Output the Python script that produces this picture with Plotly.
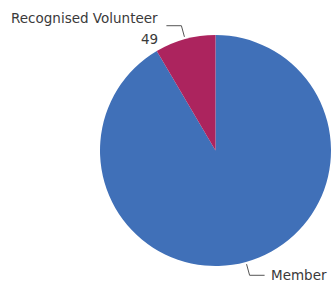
import math
import plotly.graph_objects as go

categories = ["Member", "Recognised Volunteer"]
values = [528, 49]
colors = ["#4070B8", "#AC245E"]

W, H = 331, 284
cx, cy, R = 215.5, 150.5, 115.5  # pie centre/radius in px

fig = go.Figure(go.Pie(
    labels=categories, values=values, sort=False, direction="clockwise",
    rotation=0, marker=dict(colors=colors, line=dict(width=0)),
    textinfo="none", hoverinfo="label+value", showlegend=False,
    domain=dict(x=[(cx - R) / W, (cx + R) / W], y=[1 - (cy + R) / H, 1 - (cy - R) / H]),
))

def px(x, y):
    return x / W, 1 - y / H

total = sum(values)
start = 0.0
shapes, annots = [], []
font = dict(family="DejaVu Sans", size=13.5, color="#3a3a3a")
for cat, v in zip(categories, values):
    frac = v / total
    mid = (start + frac / 2) * 2 * math.pi
    start += frac
    sx, sy = math.sin(mid), -math.cos(mid)
    ex, ey = cx + R * sx * 1.02, cy + R * sy * 1.02
    kx, ky = cx + R * sx * 1.12, cy + R * sy * 1.12
    side = 1 if sx > 0 else -1
    hx = kx + side * 15
    p = [px(ex, ey), px(kx, ky), px(hx, ky)]
    shapes.append(dict(type="path", xref="paper", yref="paper",
                       path="M {} {} L {} {} L {} {}".format(p[0][0], p[0][1], p[1][0], p[1][1], p[2][0], p[2][1]),
                       line=dict(color="#555555", width=1)))
    if side > 0:
        tx, ty = px(hx + 4, ky)
        annots.append(dict(x=tx, y=ty, xref="paper", yref="paper", text=cat, showarrow=False,
                           xanchor="left", yanchor="middle", font=font))
    else:
        tx, ty = px(hx - 6, ky - 8)
        annots.append(dict(x=tx, y=ty, xref="paper", yref="paper", text=cat, showarrow=False,
                           xanchor="right", yanchor="middle", font=font))
        tx, ty = px(hx - 6, ky + 13)
        annots.append(dict(x=tx, y=ty, xref="paper", yref="paper", text=str(v), showarrow=False,
                           xanchor="right", yanchor="middle", font=font))

fig.update_layout(width=W, height=H, margin=dict(l=0, r=0, t=0, b=0),
                  paper_bgcolor="white", plot_bgcolor="white",
                  shapes=shapes, annotations=annots)
fig.write_html("out.html", config={"displayModeBar": False},
               post_script="document.body.style.margin='0';document.body.style.overflow='hidden';")
